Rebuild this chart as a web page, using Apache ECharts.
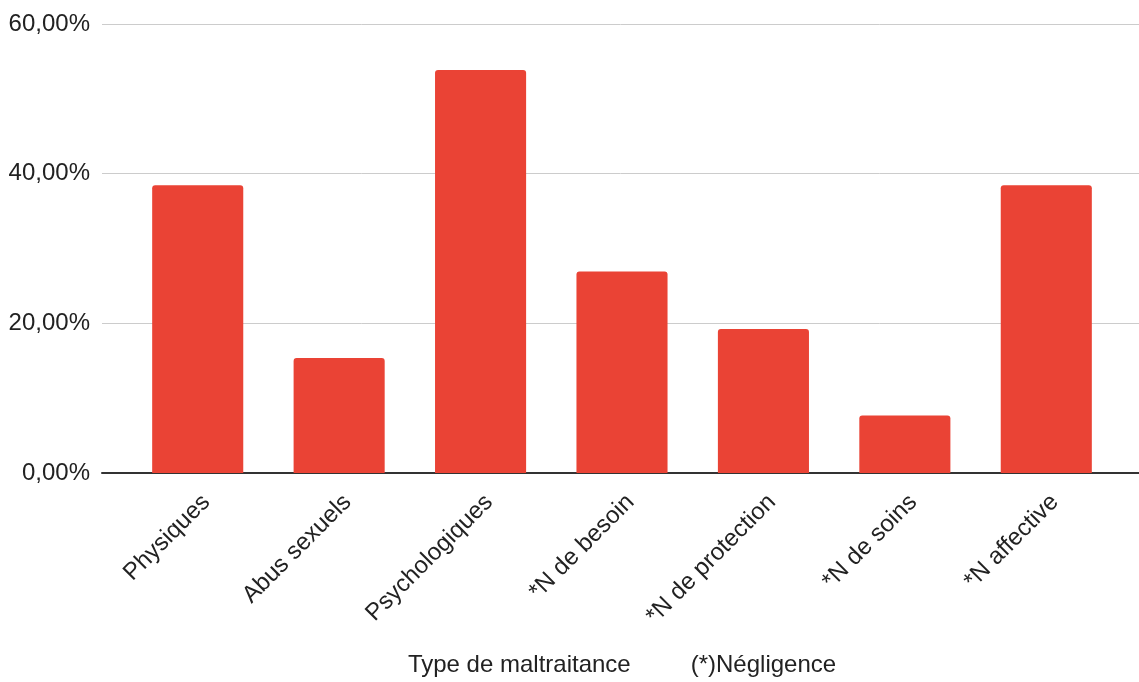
<!DOCTYPE html>
<html>
<head>
<meta charset="utf-8">
<script src="https://cdn.jsdelivr.net/npm/echarts@6/dist/echarts.min.js"></script>
<style>
html,body{margin:0;padding:0;background:#fff;}
#chart{width:1139px;height:682px;}
</style>
</head>
<body>
<div id="chart"></div>
<script>
const categories = ['Physiques', 'Abus sexuels', 'Psychologiques', '*N de besoin', '*N de protection', '*N de soins', '*N affective'];
const values = [38.46, 15.38, 53.85, 26.92, 19.23, 7.69, 38.46];
const yTicks = [0, 20, 40, 60];
const axisTitle = 'Type de maltraitance         (*)Négligence';

const FONT = '"Liberation Sans", Arial, sans-serif';
const chart = echarts.init(document.getElementById('chart'), null, {renderer: 'canvas'});

const fmt = v => v.toFixed(2).replace('.', ',') + '%';

chart.setOption({
  animation: false,
  backgroundColor: '#ffffff',
  grid: [
    {left: 102, right: 0, top: 24, bottom: 209, containLabel: false},
    {left: 127, right: 22, top: 24, bottom: 209, containLabel: false}
  ],
  xAxis: [
    {
      type: 'value', gridIndex: 0, min: 0, max: 1,
      axisLine: {show: true, lineStyle: {color: '#333333', width: 2}},
      axisTick: {show: false}, axisLabel: {show: false}, splitLine: {show: false}
    },
    {
      type: 'category', gridIndex: 1, data: categories,
      axisLine: {show: false}, axisTick: {show: false},
      axisLabel: {
        rotate: 45, interval: 0, margin: 17, verticalAlign: 'top',
        fontFamily: FONT, fontSize: 24, color: '#222222'
      },
      name: axisTitle, nameLocation: 'middle', nameGap: 180,
      nameTextStyle: {fontFamily: FONT, fontSize: 24, color: '#222222'}
    }
  ],
  yAxis: [
    {
      type: 'value', gridIndex: 0, min: yTicks[0], max: yTicks[yTicks.length - 1], interval: 20,
      axisLine: {show: false}, axisTick: {show: false},
      axisLabel: {formatter: fmt, margin: 12, fontFamily: FONT, fontSize: 24, color: '#222222'},
      splitLine: {show: true, lineStyle: {color: '#cccccc', width: 1}}
    },
    {
      type: 'value', gridIndex: 1, min: yTicks[0], max: yTicks[yTicks.length - 1], interval: 20,
      show: false, splitLine: {show: false}
    }
  ],
  series: [
    {
      type: 'bar', xAxisIndex: 1, yAxisIndex: 1, data: values,
      barCategoryGap: '35.6%',
      itemStyle: {color: '#ea4335', borderRadius: [3, 3, 0, 0]},
      z: 1
    }
  ]
});
</script>
</body>
</html>
